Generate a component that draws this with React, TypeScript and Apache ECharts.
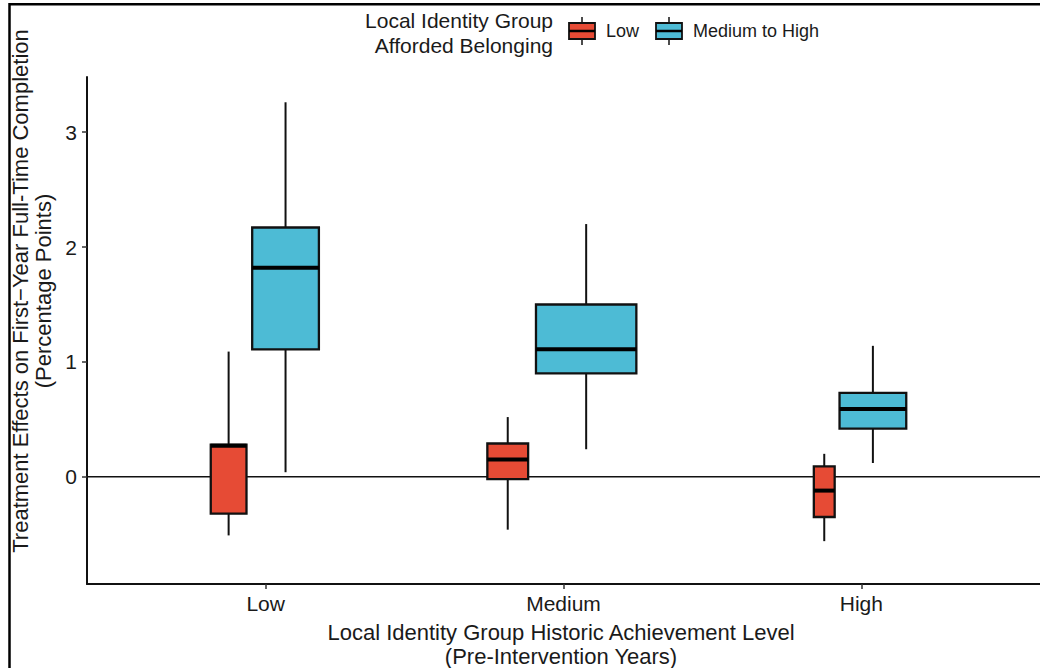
import React, { useEffect, useRef } from "react";
import * as echarts from "echarts";

// ---------- data ----------
const categories = ["Low", "Medium", "High"];
const groupNames = ["Low", "Medium to High"];
// five-number summaries per category: [lower whisker, Q1, median, Q3, upper whisker]
const lowBelonging = [
  [-0.51, -0.32, 0.27, 0.28, 1.09],
  [-0.46, -0.02, 0.15, 0.29, 0.52],
  [-0.56, -0.35, -0.12, 0.09, 0.2],
];
const highBelonging = [
  [0.04, 1.11, 1.82, 2.17, 3.26],
  [0.24, 0.9, 1.11, 1.5, 2.2],
  [0.12, 0.42, 0.59, 0.73, 1.14],
];
const yTicks = [0, 1, 2, 3];

// ---------- layout / style ----------
const X_MIN = 0.4;
const X_MAX = 3.6;
const Y_MIN = -0.933;
const Y_MAX = 3.48;
// displayed box widths (varwidth), in category units
const lowWidths = [0.12, 0.137, 0.07];
const highWidths = [0.224, 0.337, 0.224];
const PAD = 0.9;
const RED = "#E64B35";
const BLUE = "#4DBBD5";
const FONT = "'Liberation Sans', Arial, Helvetica, sans-serif";
const TXT = "#1a1a1a";

function dodge(i: number) {
  const x = i + 1;
  const wr = lowWidths[i] / PAD;
  const wb = highWidths[i] / PAD;
  const left = x - (wr + wb) / 2;
  return { red: left + wr / 2, blue: left + wr + wb / 2 };
}

function buildData(vals: number[][], which: "red" | "blue") {
  return vals.map((v, i) => {
    const c = dodge(i);
    const w = which === "red" ? lowWidths[i] : highWidths[i];
    return [which === "red" ? c.red : c.blue, v[0], v[1], v[2], v[3], v[4], w];
  });
}

function makeRender(color: string) {
  return (params: any, api: any) => {
    const x = api.value(0);
    const w = api.value(6);
    const pMin = api.coord([x, api.value(1)]);
    const pQ1 = api.coord([x, api.value(2)]);
    const pMed = api.coord([x, api.value(3)]);
    const pQ3 = api.coord([x, api.value(4)]);
    const pMax = api.coord([x, api.value(5)]);
    const half = api.size([w, 0])[0] / 2;
    const cx = pMin[0];
    return {
      type: "group",
      children: [
        { type: "line", shape: { x1: cx, y1: pMax[1], x2: cx, y2: pQ3[1] }, style: { stroke: "#111", lineWidth: 2 } },
        { type: "line", shape: { x1: cx, y1: pQ1[1], x2: cx, y2: pMin[1] }, style: { stroke: "#111", lineWidth: 2 } },
        {
          type: "rect",
          shape: { x: cx - half, y: pQ3[1], width: half * 2, height: pQ1[1] - pQ3[1] },
          style: { fill: color, stroke: "#111", lineWidth: 2.3 },
        },
        { type: "line", shape: { x1: cx - half, y1: pMed[1], x2: cx + half, y2: pMed[1] }, style: { stroke: "#000", lineWidth: 4 } },
      ],
    };
  };
}

function legendKey(x: number, color: string) {
  return {
    type: "group",
    children: [
      { type: "line", shape: { x1: x + 13, y1: 17, x2: x + 13, y2: 45 }, style: { stroke: "#111", lineWidth: 1.5 } },
      { type: "rect", shape: { x: x, y: 23, width: 26, height: 16 }, style: { fill: color, stroke: "#111", lineWidth: 1.8 } },
      { type: "line", shape: { x1: x, y1: 31, x2: x + 26, y2: 31 }, style: { stroke: "#000", lineWidth: 2.5 } },
    ],
  };
}

export default function App() {
  const ref = useRef<HTMLDivElement>(null);
  useEffect(() => {
    if (!ref.current) return;
    const chart = echarts.init(ref.current, null, { renderer: "svg" });
    const option: any = {
      animation: false,
      backgroundColor: "#ffffff",
      grid: { left: 87, top: 77, width: 958, height: 507, containLabel: false },
      xAxis: {
        type: "value",
        min: X_MIN,
        max: X_MAX,
        splitLine: { show: false },
        axisLine: { show: true, onZero: false, lineStyle: { color: "#111", width: 2 } },
        axisTick: { show: true, customValues: [1, 2, 3], length: 5, lineStyle: { color: "#333", width: 1.5 } },
        axisLabel: {
          customValues: [1, 2, 3],
          formatter: (v: number) => categories[Math.round(v) - 1] ?? "",
          fontSize: 21,
          color: TXT,
          fontFamily: FONT,
          margin: 9,
        },
      },
      yAxis: {
        type: "value",
        min: Y_MIN,
        max: Y_MAX,
        splitLine: { show: false },
        axisLine: { show: true, onZero: false, lineStyle: { color: "#111", width: 2 } },
        axisTick: { show: true, customValues: yTicks, length: 5, lineStyle: { color: "#333", width: 1.5 } },
        axisLabel: {
          customValues: yTicks,
          fontSize: 21,
          color: TXT,
          fontFamily: FONT,
          margin: 10,
        },
      },
      series: [
        {
          type: "line",
          data: [
            [X_MIN, 0],
            [X_MAX, 0],
          ],
          symbol: "none",
          silent: true,
          z: 1,
          lineStyle: { color: "#111", width: 1.6 },
        },
        {
          name: groupNames[0],
          type: "custom",
          z: 3,
          renderItem: makeRender(RED),
          encode: { x: 0, y: [1, 2, 3, 4, 5] },
          data: buildData(lowBelonging, "red"),
        },
        {
          name: groupNames[1],
          type: "custom",
          z: 3,
          renderItem: makeRender(BLUE),
          encode: { x: 0, y: [1, 2, 3, 4, 5] },
          data: buildData(highBelonging, "blue"),
        },
      ],
      graphic: [
        {
          type: "rect",
          shape: { x: 9.5, y: 4.3, width: 1200, height: 900 },
          style: { fill: "none", stroke: "#000", lineWidth: 2.5 },
          silent: true,
        },
        {
          type: "text",
          x: 20,
          y: 291,
          rotation: Math.PI / 2,
          style: {
            text: "Treatment Effects on First\u2212Year Full-Time Completion",
            align: "center",
            verticalAlign: "middle",
            fontSize: 22,
            fill: TXT,
            fontFamily: FONT,
          },
        },
        {
          type: "text",
          x: 43,
          y: 291,
          rotation: Math.PI / 2,
          style: {
            text: "(Percentage Points)",
            align: "center",
            verticalAlign: "middle",
            fontSize: 22,
            fill: TXT,
            fontFamily: FONT,
          },
        },
        {
          type: "text",
          x: 561,
          y: 632,
          style: {
            text: "Local Identity Group Historic Achievement Level",
            align: "center",
            verticalAlign: "middle",
            fontSize: 22,
            fill: TXT,
            fontFamily: FONT,
          },
        },
        {
          type: "text",
          x: 561,
          y: 656,
          style: {
            text: "(Pre-Intervention Years)",
            align: "center",
            verticalAlign: "middle",
            fontSize: 22,
            fill: TXT,
            fontFamily: FONT,
          },
        },
        {
          type: "text",
          x: 553,
          y: 20,
          style: {
            text: "Local Identity Group",
            align: "right",
            verticalAlign: "middle",
            fontSize: 21,
            fill: TXT,
            fontFamily: FONT,
          },
        },
        {
          type: "text",
          x: 553,
          y: 45,
          style: {
            text: "Afforded Belonging",
            align: "right",
            verticalAlign: "middle",
            fontSize: 21,
            fill: TXT,
            fontFamily: FONT,
          },
        },
        legendKey(569, RED),
        {
          type: "text",
          x: 606,
          y: 31,
          style: { text: groupNames[0], align: "left", verticalAlign: "middle", fontSize: 18, fill: TXT, fontFamily: FONT },
        },
        legendKey(656, BLUE),
        {
          type: "text",
          x: 693,
          y: 31,
          style: { text: groupNames[1], align: "left", verticalAlign: "middle", fontSize: 18, fill: TXT, fontFamily: FONT },
        },
      ],
    };
    chart.setOption(option);
    return () => chart.dispose();
  }, []);
  return (
    <div
      ref={ref}
      style={{ position: "fixed", left: 0, top: 0, width: 1040, height: 668, background: "#fff" }}
    />
  );
}
